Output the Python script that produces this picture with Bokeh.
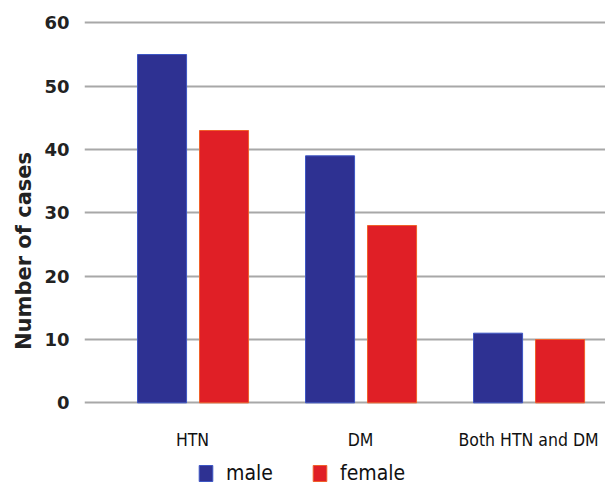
import numpy as np
from bokeh.plotting import figure
from bokeh.models import Range1d, FixedTicker, Legend, LegendItem
from bokeh.embed import file_html
from bokeh.resources import INLINE

categories = ["HTN", "DM", "Both HTN and DM"]
male = [55, 39, 11]
female = [43, 28, 10]
y_ticks = [0, 10, 20, 30, 40, 50, 60]

pos = np.arange(len(categories))

p = figure(width=605, height=485, output_backend="svg", toolbar_location=None,
           x_range=Range1d(-0.643, 2.458), y_range=Range1d(-13.05, 61),
           min_border_left=84, min_border_right=0, min_border_top=16,
           min_border_bottom=0)
p.outline_line_color = None
p.background_fill_color = "white"
p.border_fill_color = "white"

r_m = p.vbar(x=pos - 0.1815, top=male, width=0.292, fill_color="#2e3192",
             line_color="#3d56c4", line_width=1)
r_f = p.vbar(x=pos + 0.1875, top=female, width=0.292, fill_color="#e01f26",
             line_color="#f0602a", line_width=1)

p.xgrid.grid_line_color = None
p.ygrid.grid_line_color = "#a8a8a8"
p.ygrid.grid_line_width = 2
p.ygrid.level = "underlay"

p.yaxis.ticker = FixedTicker(ticks=y_ticks)
p.yaxis.axis_line_color = None
p.yaxis.major_tick_line_color = None
p.yaxis.minor_tick_line_color = None
p.yaxis.major_label_standoff = 9
p.yaxis.major_label_text_font = "DejaVu Sans"
p.yaxis.major_label_text_font_style = "bold"
p.yaxis.major_label_text_font_size = "18px"
p.yaxis.major_label_text_color = "#222222"
p.yaxis.axis_label = "Number of cases"
p.yaxis.axis_label_text_font = "DejaVu Sans"
p.yaxis.axis_label_text_font_style = "bold"
p.yaxis.axis_label_text_font_size = "21px"
p.yaxis.axis_label_text_color = "#222222"
p.yaxis.axis_label_standoff = 5

p.xaxis.ticker = FixedTicker(ticks=list(pos))
p.xaxis.major_label_overrides = {int(i): c for i, c in zip(pos, categories)}
p.xaxis.fixed_location = 0
p.xaxis.axis_line_color = None
p.xaxis.major_tick_line_color = None
p.xaxis.minor_tick_line_color = None
p.xaxis.major_label_standoff = 21
p.xaxis.major_label_text_font = "DejaVu Sans Condensed"
p.xaxis.major_label_text_font_size = "17.5px"
p.xaxis.major_label_text_color = "#111111"

def make_legend(label, r, x):
    lg = Legend(items=[LegendItem(label=label, renderers=[r])], location=(x, 0),
                orientation="horizontal", padding=0, margin=0, spacing=0,
                glyph_width=17, glyph_height=20, label_standoff=12,
                label_text_font="DejaVu Sans Condensed", label_text_font_size="21px",
                label_text_color="#111111", border_line_color=None,
                background_fill_alpha=0)
    p.add_layout(lg)

make_legend("male", r_m, 113)
make_legend("female", r_f, 227)

open("out.html", "w").write(file_html(p, INLINE))
